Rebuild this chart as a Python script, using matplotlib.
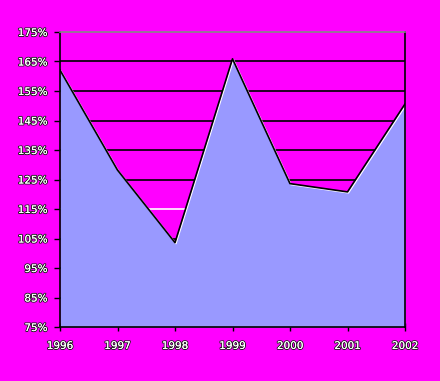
import matplotlib
matplotlib.use("Agg")
import matplotlib.pyplot as plt
import matplotlib.patheffects as pe
import matplotlib.transforms as mtrans

# data
years = ['1996', '1997', '1998', '1999', '2000', '2001', '2002']
values = [162.1, 128.2, 103.6, 165.9, 123.6, 120.8, 150.6]
yticks = [75, 85, 95, 105, 115, 125, 135, 145, 155, 165, 175]

magenta = '#FF00FF'
fill_col = '#9999FF'

fig = plt.figure(figsize=(4.4, 3.81), dpi=100, facecolor=magenta)
ax = fig.add_axes([60 / 440, 54 / 381, 345 / 440, 295 / 381])
ax.set_facecolor(magenta)

x = list(range(len(years)))

# horizontal gridlines behind the area
for t in yticks[1:-1]:
    ax.axhline(t, color='white' if t == 115 else 'black', lw=1.2, zorder=1)

ax.fill_between(x, 75, values, color=fill_col, zorder=2, lw=0)
off = ax.transData + mtrans.ScaledTranslation(1 / 100, -1 / 100, fig.dpi_scale_trans)
ax.plot(x, values, color='white', lw=1, zorder=3, transform=off)
ax.plot(x, values, color='black', lw=1.2, zorder=4)

ax.set_xlim(0, len(years) - 1)
ax.set_ylim(75, 175)

ax.spines['top'].set_color('#888888')
for side in ['left', 'right', 'bottom']:
    ax.spines[side].set_color('black')
for s in ax.spines.values():
    s.set_linewidth(1.2)
    s.set_zorder(5)

ax.set_yticks(yticks)
ax.set_yticklabels([f'{t}%' for t in yticks])
ax.set_xticks(x)
ax.set_xticklabels(years)
ax.tick_params(axis='y', direction='out', length=4, width=1, color='black', pad=5)
ax.tick_params(axis='x', direction='inout', length=6, width=1, color='black', pad=7)
for lab in ax.get_yticklabels() + ax.get_xticklabels():
    lab.set_color('white')
    lab.set_fontsize(7.5)
    lab.set_path_effects([pe.withStroke(linewidth=1.4, foreground='#222222'), pe.Normal()])

fig.savefig('out.png', dpi=100, facecolor=magenta)
